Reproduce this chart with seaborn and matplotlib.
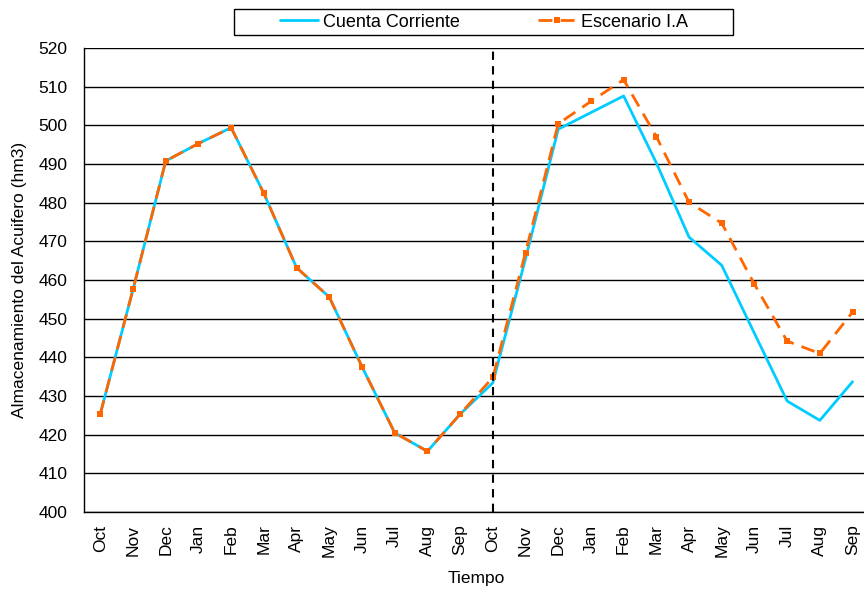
import numpy as np
import pandas as pd
import matplotlib
matplotlib.use('Agg')
import matplotlib.pyplot as plt
import seaborn as sns
from matplotlib.patches import Rectangle
from matplotlib.ticker import FixedLocator, NullFormatter

# Data
months = ['Oct', 'Nov', 'Dec', 'Jan', 'Feb', 'Mar', 'Apr', 'May', 'Jun', 'Jul', 'Aug', 'Sep',
          'Oct', 'Nov', 'Dec', 'Jan', 'Feb', 'Mar', 'Apr', 'May', 'Jun', 'Jul', 'Aug', 'Sep']
cuenta_corriente = [425.4, 457.6, 490.8, 495.3, 499.4, 482.4, 463.2, 455.6, 437.6, 420.5, 415.7, 425.3,
                    433.4, 465.5, 499.0, 503.3, 507.6, 490.3, 471.1, 463.8, 446.2, 428.7, 423.7, 433.7]
escenario_ia = [425.4, 457.6, 490.8, 495.3, 499.4, 482.4, 463.2, 455.6, 437.6, 420.5, 415.7, 425.3,
                434.8, 467.1, 500.4, 506.2, 511.8, 497.1, 480.1, 474.7, 458.9, 444.2, 441.0, 451.7]

df = pd.DataFrame({'idx': range(len(months)), 'mes': months,
                   'Cuenta Corriente': cuenta_corriente, 'Escenario I.A': escenario_ia})

sns.set_style('white')
plt.rcParams['font.family'] = ['Liberation Sans', 'DejaVu Sans']
plt.rcParams['text.color'] = 'black'
plt.rcParams['axes.labelcolor'] = 'black'
plt.rcParams['xtick.color'] = 'black'
plt.rcParams['ytick.color'] = 'black'

fig = plt.figure(figsize=(8.64, 5.92), dpi=100)
ax = fig.add_axes([0.0972, 0.1351, 0.9028, 0.7838])

sns.lineplot(data=df, x='idx', y='Cuenta Corriente', ax=ax, color='#00CCFF', lw=2,
             label='Cuenta Corriente', zorder=3)
sns.lineplot(data=df, x='idx', y='Escenario I.A', ax=ax, color='#FF6600', lw=2,
             dashes=False, linestyle=(0, (5, 3)), marker='s', markersize=4.5,
             markeredgewidth=0, label='Escenario I.A', zorder=4)

# vertical separator between the two years
ax.axvline(12, color='black', lw=1.5, linestyle=(0, (4, 3)), zorder=5)

ax.set_ylim(400, 520)
ax.set_xlim(-0.5, 23.35)
ax.set_yticks(np.arange(400, 521, 10))
ax.yaxis.grid(True, color='black', lw=1)
ax.set_axisbelow(True)

ax.set_xticks(range(len(months)))
ax.set_xticklabels(months, rotation=90, fontsize=12.5)
ax.xaxis.set_minor_locator(FixedLocator(np.arange(-0.5, 24, 1)))
ax.xaxis.set_minor_formatter(NullFormatter())
ax.tick_params(axis='x', which='major', length=0, pad=9)
ax.tick_params(axis='x', which='minor', length=6, width=1, color='black', direction='out')
ax.tick_params(axis='y', length=6, width=1, color='black', direction='out', labelsize=12.5, pad=6)

for s in ['top', 'right']:
    ax.spines[s].set_visible(False)
for s in ['left', 'bottom']:
    ax.spines[s].set_color('black')
    ax.spines[s].set_linewidth(1)

ax.set_xlabel('Tiempo', fontsize=12.5)
ax.set_ylabel('Almacenamiento del Acuifero (hm3)', fontsize=12.5)
ax.xaxis.set_label_coords(0.503, -0.128)
ax.yaxis.set_label_coords(-0.073, 0.5)

leg = fig.legend(*ax.get_legend_handles_labels(), loc='center', bbox_to_anchor=(0.5604, 0.9625),
                 ncol=2, fontsize=13, frameon=False, handlelength=2.1, handletextpad=0.3,
                 columnspacing=4.3)
ax.get_legend().remove()
# legend box drawn separately so the padding matches
fig.patches.append(Rectangle((234 / 864, 1 - 35 / 592), 499 / 864, 25.5 / 592,
                             transform=fig.transFigure, fill=False, edgecolor='black', lw=1))

fig.savefig('out.png', dpi=100)
